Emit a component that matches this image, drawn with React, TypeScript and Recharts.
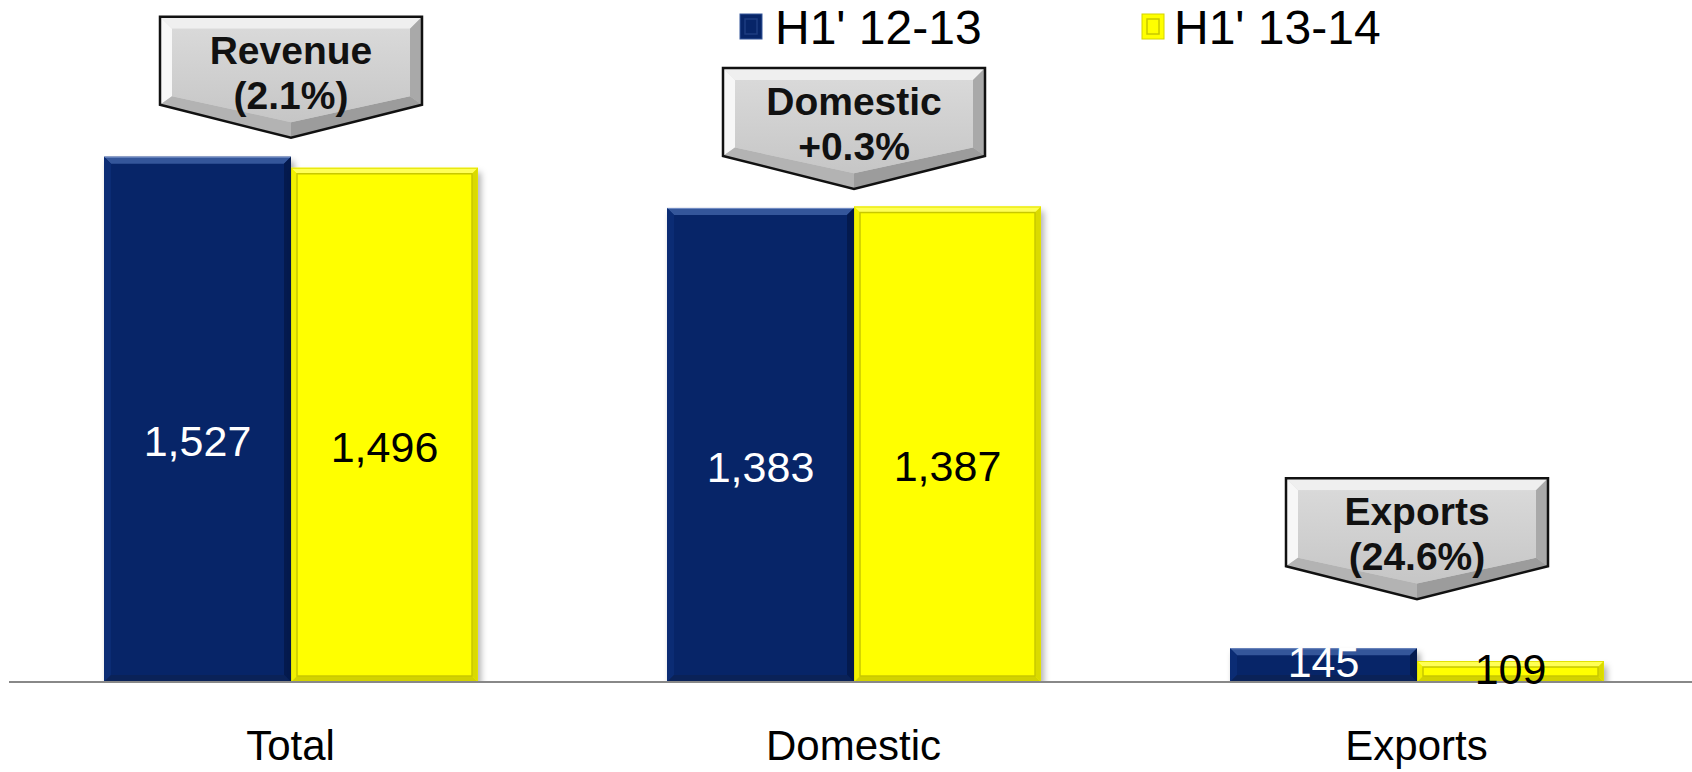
import React from 'react';
import { BarChart, Bar, XAxis, YAxis, LabelList } from 'recharts';

const categories = ['Total', 'Domestic', 'Exports'];
const seriesNames = ["H1' 12-13", "H1' 13-14"];
const valuesH1_1213 = [1527, 1383, 145];
const valuesH1_1314 = [1496, 1387, 109];
const calloutTitles = ['Revenue', 'Domestic', 'Exports'];
const calloutChanges = ['(2.1%)', '+0.3%', '(24.6%)'];

const data = categories.map((c, i) => ({
  category: c,
  a: valuesH1_1213[i],
  b: valuesH1_1314[i],
  callout: calloutTitles[i] + '\n' + calloutChanges[i],
}));

const FONT = '"Liberation Sans", Arial, sans-serif';
const BLUE = '#072568';
const YELLOW = '#FFFF00';

const fmt = (v: number) => String(v).replace(/\B(?=(\d{3})+(?!\d))/g, ',');

const BlueBar = (p: any) => {
  const { x, y, width: w, height: h } = p;
  if (!h || h <= 0) return null;
  const b = Math.min(7, h / 3);
  return (
    <g style={{ filter: 'drop-shadow(3px 5px 3px rgba(0,0,0,0.35))' }}>
      <rect x={x} y={y} width={w} height={h} fill={BLUE} />
      <polygon points={`${x},${y} ${x + w},${y} ${x + w - b},${y + b} ${x + b},${y + b}`} fill="#34569A" />
      <line x1={x} y1={y + 0.5} x2={x + w} y2={y + 0.5} stroke="#7590C6" strokeWidth={1} />
      <polygon points={`${x + w},${y} ${x + w},${y + h} ${x + w - b},${y + h - b} ${x + w - b},${y + b}`} fill="#041A4E" />
      <polygon points={`${x},${y} ${x + b},${y + b} ${x + b},${y + h - b} ${x},${y + h}`} fill="#0B2C74" />
      <polygon points={`${x},${y + h} ${x + w},${y + h} ${x + w - b},${y + h - b} ${x + b},${y + h - b}`} fill="#0A2258" />
    </g>
  );
};

const YellowBar = (p: any) => {
  const { x, y, width: w, height: h } = p;
  if (!h || h <= 0) return null;
  const b = Math.min(6, h / 3);
  return (
    <g style={{ filter: 'drop-shadow(3px 5px 3px rgba(0,0,0,0.3))' }}>
      <rect x={x} y={y} width={w} height={h} fill={YELLOW} />
      <polygon points={`${x},${y} ${x + w},${y} ${x + w - b},${y + b} ${x + b},${y + b}`} fill="#FFFF55" />
      <polygon points={`${x + w},${y} ${x + w},${y + h} ${x + w - b},${y + h - b} ${x + w - b},${y + b}`} fill="#DADA00" />
      <polygon points={`${x},${y} ${x + b},${y + b} ${x + b},${y + h - b} ${x},${y + h}`} fill="#F2F200" />
      <polygon points={`${x},${y + h} ${x + w},${y + h} ${x + w - b},${y + h - b} ${x + b},${y + h - b}`} fill="#D2D200" />
      <rect x={x + b} y={y + b} width={Math.max(0, w - 2 * b)} height={Math.max(0, h - 2 * b)} fill="none" stroke="#C8C800" strokeWidth={1.5} />
      <rect x={x + 0.5} y={y + 0.5} width={w - 1} height={h - 1} fill="none" stroke="#E2E200" strokeWidth={1} />
    </g>
  );
};

const makeValueLabel = (color: string) => (p: any) => {
  const { x, y, width, height, value } = p;
  if (value == null) return null;
  const cx = x + width / 2;
  const cy = y + height / 2;
  const baseline = cy + 15 + (height > 100 ? 22 : -3);
  return (
    <text x={cx} y={baseline} textAnchor="middle" fill={color} fontSize={43} fontFamily={FONT}>
      {fmt(Number(value))}
    </text>
  );
};

const CalloutLabel = (p: any) => {
  const { x, y, width, height, value } = p;
  if (value == null) return null;
  const lines = String(value).split('\n');
  const cx = x + width;
  const tip = y - (height < 100 ? 49 : 19);
  const W = 262, RH = 88, AH = 33;
  const top = tip - RH - AH;
  const l = cx - W / 2, r = cx + W / 2;
  const rb = top + RH;
  const b = 12;
  const il = l + b, ir = r - b, it = top + b, irb = rb - b * 0.7, itip = tip - b * 1.3;
  const outer = `${l},${top} ${r},${top} ${r},${rb} ${cx},${tip} ${l},${rb}`;
  return (
    <g>
      <defs>
        <linearGradient id="calloutFace" x1="0" y1="0" x2="0" y2="1">
          <stop offset="0" stopColor="#D9D9D9" />
          <stop offset="1" stopColor="#C6C6C6" />
        </linearGradient>
      </defs>
      <polygon points={outer} fill="url(#calloutFace)" />
      <polygon points={`${l},${top} ${r},${top} ${ir},${it} ${il},${it}`} fill="#EFEFEF" />
      <polygon points={`${l},${top} ${il},${it} ${il},${irb} ${l},${rb}`} fill="#F7F7F7" />
      <polygon points={`${r},${top} ${r},${rb} ${ir},${irb} ${ir},${it}`} fill="#A9A9A9" />
      <polygon points={`${l},${rb} ${il},${irb} ${cx},${itip} ${cx},${tip}`} fill="#B3B3B3" />
      <polygon points={`${r},${rb} ${cx},${tip} ${cx},${itip} ${ir},${irb}`} fill="#9C9C9C" />
      <polygon points={`${il},${it} ${ir},${it} ${ir},${irb} ${cx},${itip} ${il},${irb}`} fill="url(#calloutFace)" />
      <polygon points={outer} fill="none" stroke="#111" strokeWidth={2.5} strokeLinejoin="miter" />
      {lines.map((t, i) => (
        <text key={i} x={cx} y={top + 47 + i * 45} textAnchor="middle" fontSize={39} fontWeight="bold" fontFamily={FONT} fill="#111">
          {t}
        </text>
      ))}
    </g>
  );
};

const CategoryTick = (p: any) => (
  <text x={p.x} y={p.y + 78} textAnchor="middle" fontSize={42} fontFamily={FONT} fill="#000">
    {p.payload.value}
  </text>
);

const seriesColors = [BLUE, YELLOW];

export default function App() {
  return (
    <div style={{ position: 'absolute', left: 0, top: 0, width: 1692, height: 772, overflow: 'hidden', background: '#fff' }}>
      <BarChart
        width={1698}
        height={772}
        data={data}
        margin={{ top: 113, right: 0, left: 9, bottom: 0 }}
        barCategoryGap={95}
        barGap={0}
      >
        <XAxis
          dataKey="category"
          height={90}
          tickLine={false}
          tickSize={0}
          tickMargin={0}
          axisLine={{ stroke: '#888888', strokeWidth: 2 }}
          tick={<CategoryTick />}
          interval={0}
        />
        <YAxis hide domain={[50, 1650]} allowDataOverflow />
        <Bar dataKey="a" name={seriesNames[0]} fill={BLUE} shape={<BlueBar />} isAnimationActive={false}>
          <LabelList dataKey="a" content={makeValueLabel('#FFFFFF')} />
          <LabelList dataKey="callout" content={CalloutLabel} />
        </Bar>
        <Bar dataKey="b" name={seriesNames[1]} fill={YELLOW} shape={<YellowBar />} isAnimationActive={false}>
          <LabelList dataKey="b" content={makeValueLabel('#000000')} />
        </Bar>
      </BarChart>
      <svg width={1692} height={60} style={{ position: 'absolute', left: 0, top: 0 }}>
        {seriesNames.map((n, i) => {
          const sx = i === 0 ? 740 : 1142;
          const tx = i === 0 ? 775 : 1174;
          return (
            <g key={n}>
              <rect x={sx} y={14} width={22} height={25} fill={seriesColors[i]} stroke={i === 0 ? '#34569A' : '#D4D400'} strokeWidth={1} />
              <rect x={sx + 5} y={19} width={12} height={15} fill="none" stroke={i === 0 ? '#1E3C80' : '#C8C800'} strokeWidth={1.5} />
              <text x={tx} y={44} fontSize={48} fontFamily={FONT} fill="#000">{n}</text>
            </g>
          );
        })}
      </svg>
    </div>
  );
}
